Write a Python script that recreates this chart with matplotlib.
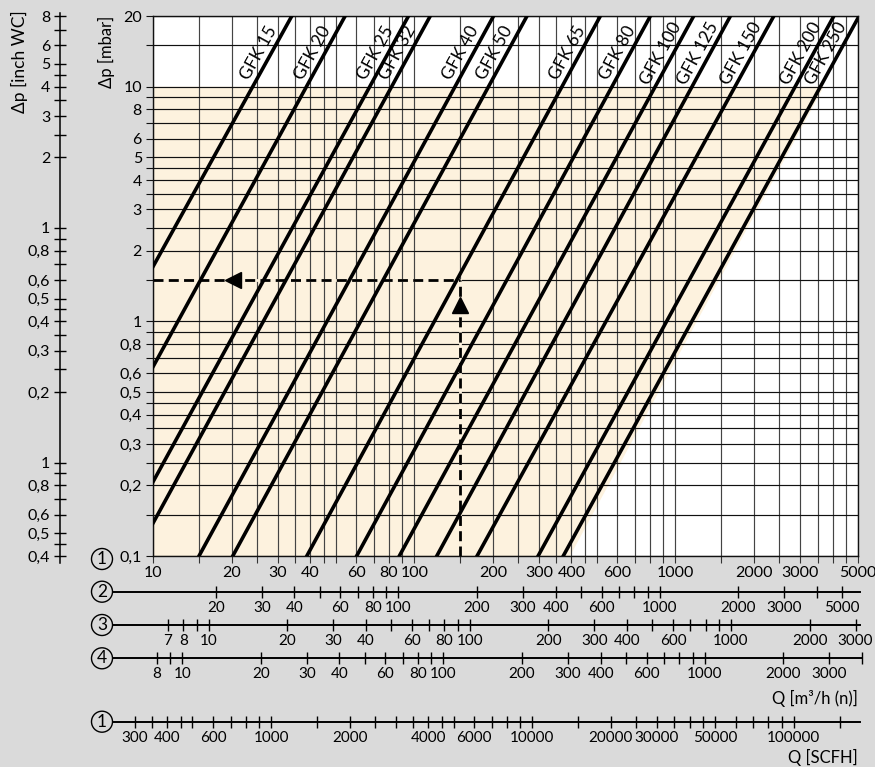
import numpy as np
import matplotlib
matplotlib.use('Agg')
import matplotlib.pyplot as plt
from matplotlib.ticker import FixedLocator, FixedFormatter, NullLocator
from matplotlib.patches import Circle
from matplotlib.lines import Line2D

plt.rcParams['font.family'] = ['Lato', 'DejaVu Sans']

# ---- data ----
gfk_names = ['GFK 15', 'GFK 20', 'GFK 25', 'GFK 32', 'GFK 40', 'GFK 50', 'GFK 65',
             'GFK 80', 'GFK 100', 'GFK 125', 'GFK 150', 'GFK 200', 'GFK 250']
# lower point of each line (Q m3/h, dp mbar)
q_low = [10, 10, 10, 10, 15.0, 20.2, 38.8, 60.2, 87.7, 122, 174, 298, 372]
dp_low = [1.71, 0.64, 0.207, 0.138, 0.1, 0.1, 0.1, 0.1, 0.1, 0.1, 0.1, 0.1, 0.1]
# upper point of each line
q_high = [34.0, 54.4, 95.1, 115.2, 201.3, 270.3, 516, 802, 1175, 1624, 2381, 4042, 5000]
dp_high = [20, 20, 20, 20, 20, 20, 20, 20, 20, 20, 20, 20, 19.6]

# shaded working range (Q, dp)
shade_q = [10, 10, 3700, 395]
shade_dp = [0.1, 10, 10, 0.1]

# example reading
ex_q = 150
ex_dp = 1.5

# grid values
grid_x = [10, 15, 20, 25, 30, 35, 40, 45, 50, 60, 70, 80, 90,
          100, 150, 200, 250, 300, 350, 400, 450, 500, 600, 700, 800, 900,
          1000, 1500, 2000, 2500, 3000, 3500, 4000, 4500, 5000]
grid_y = [0.1, 0.15, 0.2, 0.25, 0.3, 0.35, 0.4, 0.45, 0.5, 0.6, 0.7, 0.8, 0.9,
          1, 1.5, 2, 2.5, 3, 3.5, 4, 4.5, 5, 6, 7, 8, 9, 10, 15, 20]
label_x = [10, 20, 30, 40, 60, 80, 100, 200, 300, 400, 600, 1000, 2000, 3000, 5000]
label_y = [0.1, 0.2, 0.3, 0.4, 0.5, 0.6, 0.8, 1, 2, 3, 4, 5, 6, 8, 10, 20]

# inch WC scale
wc_ticks = [8, 7, 6, 5, 4.5, 4, 3.5, 3, 2.5, 2, 1, 0.9, 0.8, 0.7, 0.6, 0.5, 0.45, 0.4,
            0.35, 0.3, 0.25, 0.2, 0.1, 0.09, 0.08, 0.07, 0.06, 0.05, 0.045, 0.04]
wc_labels = {8: '8', 6: '6', 5: '5', 4: '4', 3: '3', 2: '2', 1: '1', 0.8: '0,8',
             0.6: '0,6', 0.5: '0,5', 0.4: '0,4', 0.3: '0,3', 0.2: '0,2',
             0.1: '1', 0.08: '0,8', 0.06: '0,6', 0.05: '0,5', 0.04: '0,4'}
mbar_to_wc = 0.4

# secondary flow scales (factor relative to scale 1)
f2 = 1.15
ticks2 = [20, 30, 40, 50, 60, 70, 80, 90, 100, 200, 300, 400, 500, 600, 700, 800, 900,
          1000, 2000, 3000, 4000, 5000]
labels2 = [20, 30, 40, 60, 80, 100, 200, 300, 400, 600, 1000, 2000, 3000, 5000]
f3 = 0.613
ticks3 = [7, 8, 9, 10, 20, 30, 40, 50, 60, 70, 80, 90, 100, 200, 300, 400, 500, 600,
          700, 800, 900, 1000, 2000, 3000]
labels3 = [7, 8, 10, 20, 30, 40, 60, 80, 100, 200, 300, 400, 600, 1000, 2000, 3000]
f4 = 0.773
ticks4 = [8, 9, 10, 20, 30, 40, 50, 60, 70, 80, 90, 100, 200, 300, 400, 500, 600, 700,
          800, 900, 1000, 2000, 3000, 4000]
labels4 = [8, 10, 20, 30, 40, 60, 80, 100, 200, 300, 400, 600, 1000, 2000, 3000]
f_scfh = 35.31
ticks_scfh = [300, 350, 400, 450, 500, 600, 700, 800, 900, 1000, 1500, 2000, 2500, 3000,
              3500, 4000, 4500, 5000, 6000, 7000, 8000, 9000, 10000, 15000, 20000, 25000,
              30000, 35000, 40000, 45000, 50000, 60000, 70000, 80000, 90000, 100000, 150000]
labels_scfh = [300, 400, 600, 1000, 2000, 4000, 6000, 10000, 20000, 30000, 50000, 100000]

W, H = 875, 767
BG = '#dadada'
BEIGE = '#fdf2de'
FS = 11.5
FS_SCALE = 11


def fx(px):
    return px / W


def fy(py):
    return 1 - py / H


AX_L, AX_R, AX_T, AX_B = 153, 858, 16, 556
decade_px = (AX_R - AX_L) / np.log10(500)


def q1_at(px):
    return 10 ** (1 + (px - AX_L) / decade_px)


def comma(v):
    return f'{v:g}'.replace('.', ',')


fig = plt.figure(figsize=(W / 100, H / 100), dpi=100, facecolor=BG)
ax = fig.add_axes([fx(AX_L), fy(AX_B), (AX_R - AX_L) / W, (AX_B - AX_T) / H])
ax.set_xscale('log')
ax.set_yscale('log')
ax.set_xlim(10, 5000)
ax.set_ylim(0.1, 20)
ax.set_facecolor('white')

ax.fill(shade_q, shade_dp, color=BEIGE, lw=0, zorder=0.5)

ax.xaxis.set_major_locator(FixedLocator(grid_x))
ax.xaxis.set_major_formatter(FixedFormatter([str(v) if v in label_x else '' for v in grid_x]))
ax.yaxis.set_major_locator(FixedLocator(grid_y))
ax.yaxis.set_major_formatter(FixedFormatter([comma(v) if v in label_y else '' for v in grid_y]))
ax.xaxis.set_minor_locator(NullLocator())
ax.yaxis.set_minor_locator(NullLocator())
ax.tick_params(axis='x', direction='out', length=5, width=0.8, color='#333', pad=2, labelsize=FS)
ax.tick_params(axis='y', direction='out', length=5, width=0.8, color='#111', pad=3, labelsize=FS)
ax.grid(axis='x', color='#444', lw=0.85, zorder=1)
ax.grid(axis='y', color='#111', lw=0.85, zorder=1)
ax.set_axisbelow(True)
for s in ax.spines.values():
    s.set_color('#111')
    s.set_linewidth(1.0)

# flow lines
fig.canvas.draw()
for name, qa, pa, qb, pb in zip(gfk_names, q_low, dp_low, q_high, dp_high):
    n = np.log10(pb / pa) / np.log10(qb / qa)
    qs = np.array([qa / 2, qb * 2])
    ps = pa * (qs / qa) ** n
    ax.plot(qs, ps, color='black', lw=2.6, solid_capstyle='butt', zorder=3)
    # label along the line
    p_lab = 13.2
    q_lab = qa * (p_lab / pa) ** (1 / n)
    p0 = ax.transData.transform((q_lab, p_lab))
    p1 = ax.transData.transform((q_lab * 1.5, p_lab * 1.5 ** n))
    ang = np.degrees(np.arctan2(p1[1] - p0[1], p1[0] - p0[0]))
    ax.annotate(name, (q_lab, p_lab), xytext=(-2 * np.sin(np.radians(ang)), 2 * np.cos(np.radians(ang))),
                textcoords='offset points', rotation=ang, rotation_mode='anchor',
                ha='center', va='bottom', fontsize=12.5, zorder=5)

# example reading with arrows
ax.plot([10, ex_q], [ex_dp, ex_dp], color=BEIGE, lw=2, zorder=2)
ax.plot([ex_q, ex_q], [0.1, ex_dp], color=BEIGE, lw=2, zorder=2)
ax.plot([10, ex_q], [ex_dp, ex_dp], color='black', lw=2.0, ls=(0, (3.6, 1.9)), zorder=4)
ax.plot([ex_q, ex_q], [0.1, ex_dp], color='black', lw=2.0, ls=(0, (3.6, 1.9)), zorder=4)
ax.plot([20.2], [ex_dp], marker='<', ms=12, color='black', zorder=5, clip_on=False)
ax.plot([ex_q], [1.17], marker='^', ms=12, color='black', zorder=5, clip_on=False)

fig.text(fx(106), fy(52), 'Δp [mbar]', rotation=90, ha='center', va='center', fontsize=12)
fig.text(fx(19), fy(62), 'Δp [inch WC]', rotation=90, ha='center', va='center', fontsize=12.5)

# inch WC axis
axl = fig.add_axes([fx(60), fy(AX_B), 0.0001, (AX_B - AX_T) / H])
axl.set_yscale('log')
axl.set_ylim(0.1 * mbar_to_wc * 0.999, 20 * mbar_to_wc * 1.001)
axl.patch.set_visible(False)
for k in ['top', 'right', 'bottom', 'left']:
    axl.spines[k].set_visible(False)
axl.set_xticks([])
axl.yaxis.set_major_locator(FixedLocator(wc_ticks))
axl.yaxis.set_major_formatter(FixedFormatter([wc_labels.get(v, '') for v in wc_ticks]))
axl.yaxis.set_minor_locator(NullLocator())
axl.tick_params(axis='y', direction='inout', length=8, width=1.0, pad=3, labelsize=FS)
fig.add_artist(Line2D([fx(60), fx(60)], [fy(563), fy(13)], color='black', lw=1.1))


def flow_scale(y_px, factor, ticks, labels, x0=113, x1=860):
    a = fig.add_axes([fx(x0), fy(y_px), (x1 - x0) / W, 0.0001])
    a.set_xscale('log')
    a.set_xlim(factor * q1_at(x0), factor * q1_at(x1))
    a.patch.set_visible(False)
    for k in ['top', 'right', 'left']:
        a.spines[k].set_visible(False)
    a.spines['bottom'].set_linewidth(1.4)
    a.set_yticks([])
    a.xaxis.set_major_locator(FixedLocator(ticks))
    a.xaxis.set_major_formatter(FixedFormatter([str(v) if v in labels else '' for v in ticks]))
    a.xaxis.set_minor_locator(NullLocator())
    a.tick_params(axis='x', direction='inout', length=9, width=1.0, pad=2, labelsize=FS_SCALE)
    return a


flow_scale(591.7, f2, ticks2, labels2)
flow_scale(625, f3, ticks3, labels3)
flow_scale(658.3, f4, ticks4, labels4, x1=862)
flow_scale(721.7, f_scfh, ticks_scfh, labels_scfh)

# circled scale numbers
for y_px, sym in [(559, '1'), (591.7, '2'), (625, '3'), (658.3, '4'), (721.7, '1')]:
    fig.add_artist(Circle((102 / 100, (H - y_px) / 100), 0.105, transform=fig.dpi_scale_trans,
                          facecolor='none', edgecolor='black', lw=1.0))
    fig.text(fx(102), fy(y_px), sym, ha='center', va='center', fontsize=12.5)

fig.text(fx(858), fy(698), 'Q [m³/h (n)]', ha='right', va='center', fontsize=12)
fig.text(fx(858), fy(757), 'Q [SCFH]', ha='right', va='center', fontsize=12)

fig.savefig('out.png', dpi=100, facecolor=BG)
